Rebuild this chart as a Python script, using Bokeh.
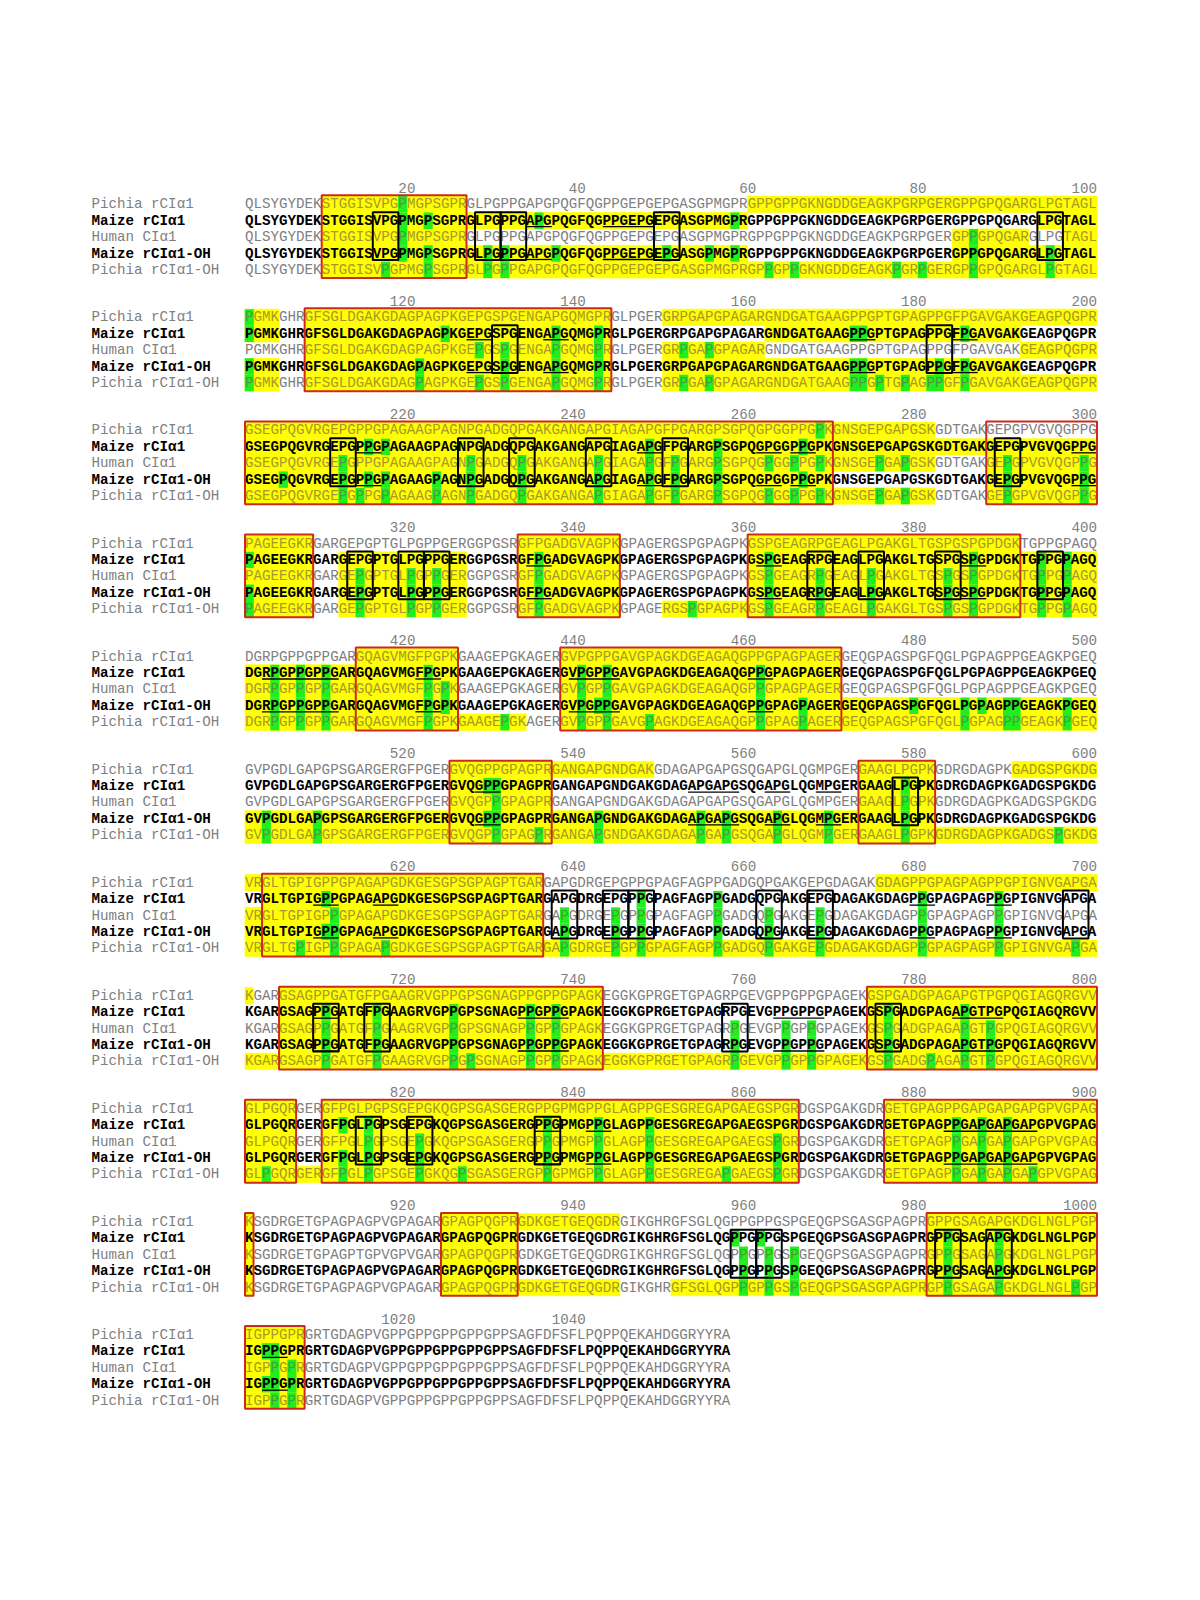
from bokeh.plotting import figure
from bokeh.models import Range1d, ColumnDataSource
from bokeh.core.properties import value
from bokeh.embed import file_html
from bokeh.resources import INLINE

# ---------------- data ----------------
sequence_blocks = [
    "QLSYGYDEKSTGGISVPGPMGPSGPRGLPGPPGAPGPQGFQGPPGEPGEPGASGPMGPRGPPGPPGKNGDDGEAGKPGRPGERGPPGPQGARGLPGTAGL",
    "PGMKGHRGFSGLDGAKGDAGPAGPKGEPGSPGENGAPGQMGPRGLPGERGRPGAPGPAGARGNDGATGAAGPPGPTGPAGPPGFPGAVGAKGEAGPQGPR",
    "GSEGPQGVRGEPGPPGPAGAAGPAGNPGADGQPGAKGANGAPGIAGAPGFPGARGPSGPQGPGGPPGPKGNSGEPGAPGSKGDTGAKGEPGPVGVQGPPG",
    "PAGEEGKRGARGEPGPTGLPGPPGERGGPGSRGFPGADGVAGPKGPAGERGSPGPAGPKGSPGEAGRPGEAGLPGAKGLTGSPGSPGPDGKTGPPGPAGQ",
    "DGRPGPPGPPGARGQAGVMGFPGPKGAAGEPGKAGERGVPGPPGAVGPAGKDGEAGAQGPPGPAGPAGERGEQGPAGSPGFQGLPGPAGPPGEAGKPGEQ",
    "GVPGDLGAPGPSGARGERGFPGERGVQGPPGPAGPRGANGAPGNDGAKGDAGAPGAPGSQGAPGLQGMPGERGAAGLPGPKGDRGDAGPKGADGSPGKDG",
    "VRGLTGPIGPPGPAGAPGDKGESGPSGPAGPTGARGAPGDRGEPGPPGPAGFAGPPGADGQPGAKGEPGDAGAKGDAGPPGPAGPAGPPGPIGNVGAPGA",
    "KGARGSAGPPGATGFPGAAGRVGPPGPSGNAGPPGPPGPAGKEGGKGPRGETGPAGRPGEVGPPGPPGPAGEKGSPGADGPAGAPGTPGPQGIAGQRGVV",
    "GLPGQRGERGFPGLPGPSGEPGKQGPSGASGERGPPGPMGPPGLAGPPGESGREGAPGAEGSPGRDGSPGAKGDRGETGPAGPPGAPGAPGAPGPVGPAG",
    "KSGDRGETGPAGPAGPVGPAGARGPAGPQGPRGDKGETGEQGDRGIKGHRGFSGLQGPPGPPGSPGEQGPSGASGPAGPRGPPGSAGAPGKDGLNGLPGP",
    "IGPPGPRGRTGDAGPVGPPGPPGPPGPPGPPSAGFDFSFLPQPPQEKAHDGGRYYRA",
]
human_substitutions = {914: "T", 920: "V"}

row_labels = ["Pichia rCIα1", "Maize rCIα1", "Human CIα1", "Maize rCIα1-OH", "Pichia rCIα1-OH"]
row_bold = [False, True, False, True, False]
tick_numbers = list(range(20, 1041, 20))

red_boxes = [(10, 26), (108, 143), (201, 269), (288, 300), (301, 308), (333, 344), (360, 391),
             (414, 425), (438, 470), (525, 536), (573, 581), (603, 635), (705, 742), (774, 800),
             (801, 806), (810, 865), (876, 900), (901, 901), (924, 932), (981, 1000), (1001, 1007)]

black_boxes = [(16, 18), (28, 30), (31, 33), (49, 51), (94, 96), (130, 132), (181, 183),
               (211, 213), (226, 228), (232, 234), (241, 243), (250, 252), (289, 291),
               (313, 315), (319, 321), (322, 324), (367, 369), (373, 375), (382, 384), (394, 396),
               (577, 579), (637, 639), (643, 645), (646, 648), (661, 663), (667, 669), (697, 699),
               (709, 711), (715, 717), (757, 759), (775, 777), (814, 816), (820, 822), (835, 837),
               (958, 960), (961, 963), (982, 984), (988, 990)]

underlined = [(34, 36), (43, 48), (127, 129), (136, 138), (172, 174), (184, 186), (214, 216),
              (247, 249), (261, 263), (265, 267), (298, 300), (334, 336), (361, 363), (385, 387),
              (403, 411), (421, 423), (439, 444), (460, 462), (528, 530), (553, 558), (562, 564),
              (568, 570), (609, 611), (616, 618), (679, 681), (688, 690), (709, 711), (733, 738),
              (763, 768), (784, 789), (835, 837), (841, 843), (883, 893), (1003, 1005)]

pichia_yellow = [(10, 26), (60, 104), (108, 143), (150, 281), (301, 308), (333, 344), (360, 391),
                 (414, 425), (438, 470), (525, 548), (573, 581), (591, 635), (675, 701), (705, 742),
                 (774, 806), (810, 865), (876, 901), (924, 944), (981, 1007)]
maize_yellow = [(10, 59), (94, 104), (108, 143), (162, 191), (201, 308), (312, 326), (333, 344),
                (360, 425), (438, 470), (525, 536), (573, 581), (603, 635), (705, 742), (774, 806),
                (810, 865), (876, 901), (924, 932), (981, 1007)]
human_yellow = [(10, 26), (84, 92), (97, 100), (108, 143), (150, 161), (192, 281), (288, 308),
                (312, 326), (333, 344), (360, 425), (438, 470), (525, 536), (573, 581), (601, 635),
                (705, 742), (774, 806), (810, 865), (876, 901), (924, 932), (981, 1007)]
maize_oh_yellow = [(10, 59), (84, 104), (108, 143), (150, 191), (201, 269), (288, 308), (312, 326),
                   (333, 344), (360, 425), (438, 581), (601, 635), (705, 742), (774, 806),
                   (810, 865), (876, 901), (924, 932), (981, 1007)]
pichia_oh_yellow = [(10, 104), (108, 143), (150, 281), (288, 308), (312, 326), (333, 344),
                    (350, 433), (438, 865), (876, 901), (924, 944), (951, 1007)]

pichia_green = [19, 101, 268]
maize_green = [19, 22, 35, 58, 101, 124, 137, 142, 172, 173, 185, 215, 217, 248, 256, 266, 301, 335,
               362, 386, 394, 397, 404, 407, 410, 422, 440, 443, 461, 529, 530, 578, 610, 647, 656,
               680, 689, 710, 716, 725, 734, 737, 776, 785, 812, 815, 836, 842, 848, 884, 887, 890,
               958, 961, 983, 989, 1003, 1004]
human_green = [19, 86, 128, 131, 137, 142, 152, 155, 212, 227, 233, 242, 248, 251, 256, 262, 265,
               268, 275, 278, 290, 299, 314, 320, 323, 335, 362, 368, 374, 383, 386, 394, 397, 404,
               407, 410, 422, 424, 440, 443, 461, 530, 578, 611, 638, 644, 647, 656, 662, 668, 680,
               689, 710, 716, 725, 734, 737, 758, 764, 767, 776, 785, 788, 815, 821, 836, 842, 848,
               863, 884, 887, 890, 959, 962, 965, 983, 989, 1004, 1006]
maize_oh_green = [19, 22, 29, 31, 37, 50, 55, 58, 86, 95, 101, 121, 131, 137, 142, 172, 173, 182,
                  185, 205, 212, 215, 217, 223, 227, 233, 242, 248, 251, 256, 266, 290, 299, 301,
                  314, 320, 323, 335, 362, 368, 374, 383, 386, 394, 397, 404, 407, 410, 422, 424,
                  440, 442, 443, 461, 466, 479, 485, 487, 490, 491, 497, 503, 509, 529, 530, 542,
                  554, 557, 563, 569, 578, 610, 611, 638, 644, 647, 656, 662, 668, 680, 689, 710,
                  716, 725, 734, 737, 758, 764, 767, 776, 785, 788, 812, 815, 821, 836, 842, 848,
                  863, 884, 887, 890, 959, 962, 965, 983, 989, 1003, 1004, 1006]
pichia_oh_green = [17, 22, 29, 31, 62, 65, 77, 80, 86, 95, 101, 121, 128, 131, 137, 142, 152, 155,
                   172, 173, 175, 178, 181, 182, 185, 212, 214, 217, 223, 227, 233, 242, 248, 251,
                   256, 262, 265, 268, 275, 278, 290, 299, 301, 314, 320, 323, 335, 353, 362, 368,
                   374, 383, 386, 394, 397, 404, 407, 410, 422, 431, 440, 443, 448, 461, 466, 485,
                   490, 491, 497, 503, 509, 530, 535, 542, 554, 557, 563, 569, 578, 596, 607, 611,
                   617, 638, 644, 647, 656, 662, 668, 680, 689, 698, 710, 716, 725, 727, 734, 737,
                   758, 764, 767, 776, 781, 785, 788, 803, 812, 815, 821, 826, 836, 842, 848, 857,
                   863, 884, 887, 890, 893, 959, 962, 965, 983, 989, 998, 1004, 1006]

yellow_spans = [pichia_yellow, maize_yellow, human_yellow, maize_oh_yellow, pichia_oh_yellow]
green_sites = [pichia_green, maize_green, human_green, maize_oh_green, pichia_oh_green]

# ---------------- layout ----------------
W, H = 1184, 1584
CW = 8.52          # width of one residue
X0 = 244.5         # left edge of residue 1 of each block
LX = 91            # left edge of row labels
Y0 = 203.8         # centre of first row of first block
BP = 113.07        # block pitch
RP = 16.4          # row pitch
HALF = RP / 2
FONT = value("Liberation Mono")
FSIZE = "14.2px"

YELLOW = "#ffff00"
GREEN = "#1fef1f"
RED = "#cc2a1a"
GRAY = "#808080"
GRAY_ON_YELLOW = "#a8982a"
GRAY_ON_GREEN = "#4f9a3a"

seq = "".join(sequence_blocks)
N = len(seq)
human_seq = "".join(human_substitutions.get(i + 1, c) for i, c in enumerate(seq))
row_seqs = [seq, seq, human_seq, seq, seq]
n_blocks = len(sequence_blocks)


def blk(pos):
    return (pos - 1) // 100


def col_left(pos):
    return X0 + ((pos - 1) % 100) * CW


def row_y(b, r):
    return Y0 + b * BP + r * RP


def split(s, e):
    out = []
    e = min(e, N)
    while s <= e:
        b = blk(s)
        be = min(e, (b + 1) * 100)
        out.append((s, be))
        s = be + 1
    return out


p = figure(width=W, height=H, x_range=Range1d(0, W), y_range=Range1d(H, 0),
           output_backend="svg", toolbar_location=None, min_border=0,
           x_axis_location=None, y_axis_location=None)
p.grid.visible = False
p.outline_line_color = None
p.background_fill_color = "white"

# backgrounds
yq = dict(left=[], right=[], top=[], bottom=[])
gq = dict(left=[], right=[], top=[], bottom=[])
state = []
for r in range(5):
    st = [""] * (N + 1)
    for (s, e) in yellow_spans[r]:
        for (a, b2) in split(s, e):
            bb = blk(a)
            yq["left"].append(col_left(a))
            yq["right"].append(col_left(b2) + CW)
            yq["top"].append(row_y(bb, r) - HALF)
            yq["bottom"].append(row_y(bb, r) + HALF)
            for k in range(a, b2 + 1):
                st[k] = "y"
    for g in green_sites[r]:
        if g > N:
            continue
        bb = blk(g)
        gq["left"].append(col_left(g) - 0.3)
        gq["right"].append(col_left(g) + CW + 0.3)
        gq["top"].append(row_y(bb, r) - HALF)
        gq["bottom"].append(row_y(bb, r) + HALF)
        st[g] = "g"
    state.append(st)

p.quad(source=ColumnDataSource(yq), left="left", right="right", top="top", bottom="bottom",
       fill_color=YELLOW, line_color=YELLOW, line_width=0.6)
p.quad(source=ColumnDataSource(gq), left="left", right="right", top="top", bottom="bottom",
       fill_color=GREEN, line_color=None)

# sequence text, in runs of equal colour
runs = {False: dict(x=[], y=[], text=[], color=[]), True: dict(x=[], y=[], text=[], color=[])}
for r in range(5):
    bold = row_bold[r]
    for b in range(n_blocks):
        start = b * 100 + 1
        end = min(N, (b + 1) * 100)
        cur_col, cur_txt, cur_pos = None, "", start
        for pos in range(start, end + 1):
            if bold:
                c = "black"
            else:
                s = state[r][pos]
                c = GRAY_ON_GREEN if s == "g" else (GRAY_ON_YELLOW if s == "y" else GRAY)
            if c != cur_col:
                if cur_txt:
                    runs[bold]["x"].append(col_left(cur_pos))
                    runs[bold]["y"].append(row_y(b, r))
                    runs[bold]["text"].append(cur_txt)
                    runs[bold]["color"].append(cur_col)
                cur_col, cur_txt, cur_pos = c, "", pos
            cur_txt += row_seqs[r][pos - 1]
        if cur_txt:
            runs[bold]["x"].append(col_left(cur_pos))
            runs[bold]["y"].append(row_y(b, r))
            runs[bold]["text"].append(cur_txt)
            runs[bold]["color"].append(cur_col)

for bold in (False, True):
    p.text(source=ColumnDataSource(runs[bold]), x="x", y="y", text="text", text_color="color",
           text_font=FONT, text_font_size=FSIZE, text_baseline="middle", text_align="left",
           text_font_style="bold" if bold else "normal")

# row labels
for bold in (False, True):
    lab = dict(x=[], y=[], text=[])
    for b in range(n_blocks):
        for r in range(5):
            if row_bold[r] == bold:
                lab["x"].append(LX)
                lab["y"].append(row_y(b, r))
                lab["text"].append(row_labels[r])
    p.text(source=ColumnDataSource(lab), x="x", y="y", text="text",
           text_color="black" if bold else GRAY, text_font=FONT, text_font_size=FSIZE,
           text_baseline="middle", text_align="left",
           text_font_style="bold" if bold else "normal")

# position numbers
tk = dict(x=[], y=[], text=[])
for n in tick_numbers:
    if n <= N:
        tk["x"].append(col_left(n) + CW)
        tk["y"].append(row_y(blk(n), 0) - 16.5)
        tk["text"].append(str(n))
p.text(source=ColumnDataSource(tk), x="x", y="y", text="text", text_color=GRAY,
       text_font=FONT, text_font_size=FSIZE, text_baseline="middle", text_align="right")

# underlines (rows 2 and 4)
ul = dict(x0=[], y0=[], x1=[], y1=[])
for (s, e) in underlined:
    for (a, b2) in split(s, e):
        bb = blk(a)
        for r in (1, 3):
            ul["x0"].append(col_left(a))
            ul["x1"].append(col_left(b2) + CW)
            ul["y0"].append(row_y(bb, r) + 6.0)
            ul["y1"].append(row_y(bb, r) + 6.0)
p.segment(source=ColumnDataSource(ul), x0="x0", y0="y0", x1="x1", y1="y1",
          line_color="black", line_width=1.3)

# black boxes (rows 2-4)
bq = dict(left=[], right=[], top=[], bottom=[])
for (s, e) in black_boxes:
    for (a, b2) in split(s, e):
        bb = blk(a)
        bq["left"].append(col_left(a))
        bq["right"].append(col_left(b2) + CW)
        bq["top"].append(row_y(bb, 1) - 8.5)
        bq["bottom"].append(row_y(bb, 3) + 6.5)
p.quad(source=ColumnDataSource(bq), left="left", right="right", top="top", bottom="bottom",
       fill_color=None, line_color="black", line_width=2)

# red boxes (all rows)
rq = dict(left=[], right=[], top=[], bottom=[])
for (s, e) in red_boxes:
    for (a, b2) in split(s, e):
        bb = blk(a)
        rq["left"].append(col_left(a))
        rq["right"].append(col_left(b2) + CW)
        rq["top"].append(row_y(bb, 0) - 9.0)
        rq["bottom"].append(row_y(bb, 4) + 8.2)
p.quad(source=ColumnDataSource(rq), left="left", right="right", top="top", bottom="bottom",
       fill_color=None, line_color=RED, line_width=2)

open("out.html", "w").write(file_html(p, INLINE))
